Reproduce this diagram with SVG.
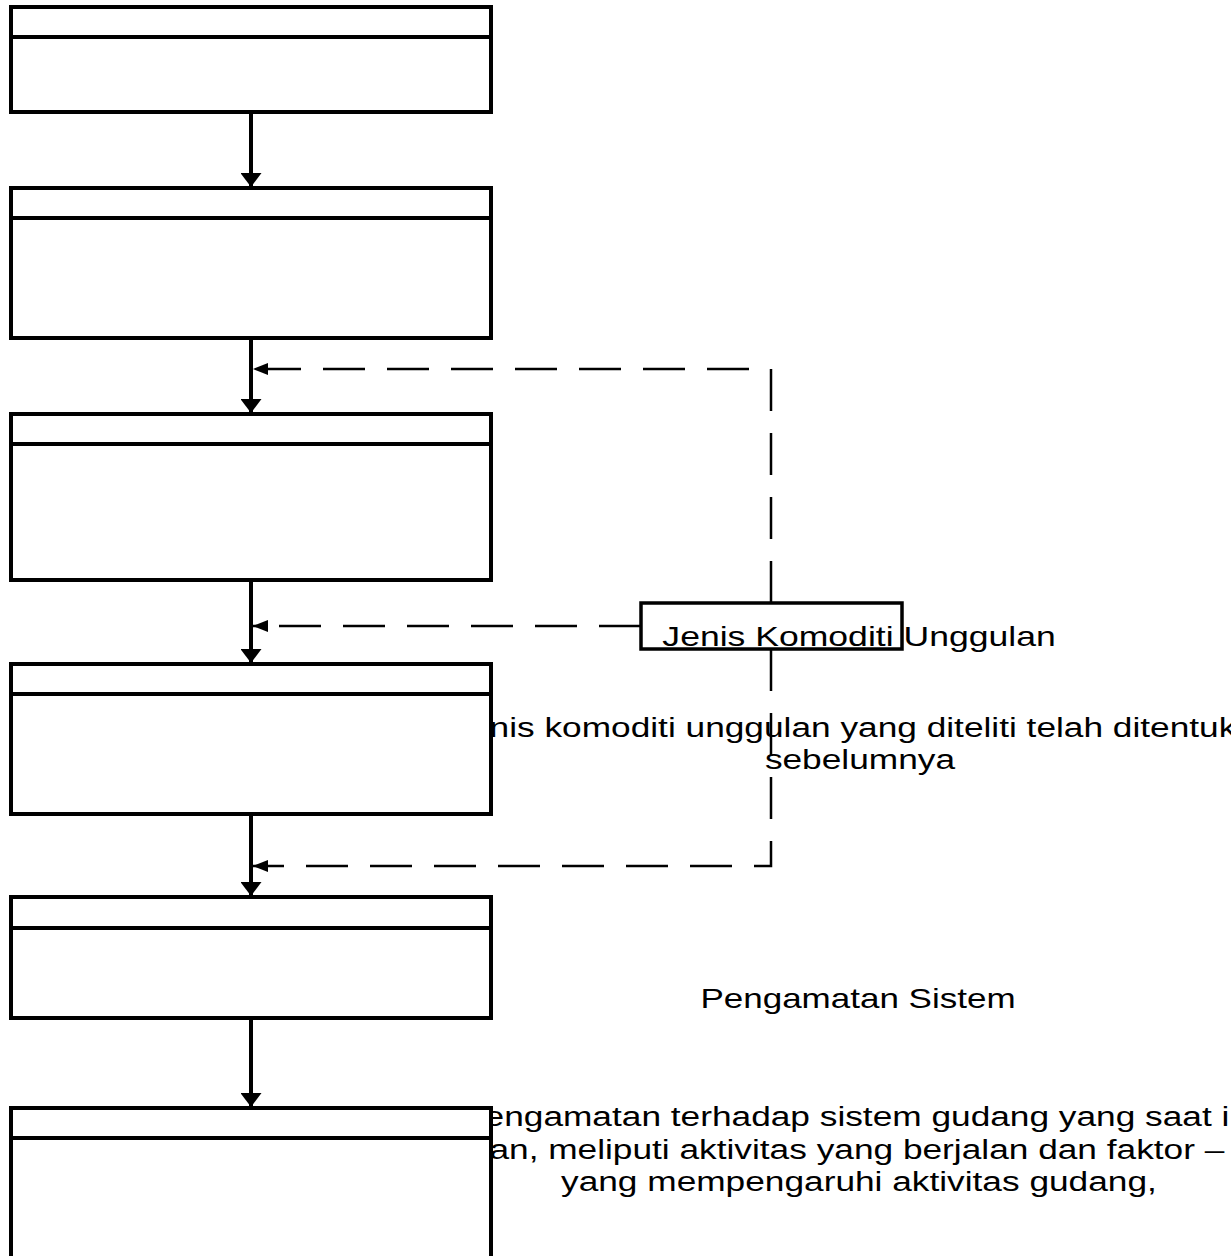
<svg xmlns="http://www.w3.org/2000/svg" width="1231" height="1256" viewBox="0 0 1231 1256">
<style>
.box{fill:#fff;stroke:#000;stroke-width:4}
.hdr{stroke:#000;stroke-width:4}
.flow{fill:none;stroke:#000;stroke-width:4}
.dash{fill:none;stroke:#000;stroke-width:2.5;stroke-dasharray:42 22}
.t{font-family:"Liberation Sans",Arial,sans-serif;font-size:28px;fill:#000;text-anchor:middle}
</style>
<defs>
<marker id="ah" markerUnits="userSpaceOnUse" viewBox="0 0 14 21" refX="14" refY="10.5" markerWidth="14" markerHeight="21" orient="auto">
<path d="M0,0 L14,10.5 L0,21 z" fill="#000"/>
</marker>
<marker id="ahs" markerUnits="userSpaceOnUse" viewBox="0 0 15 12" refX="15" refY="6" markerWidth="15" markerHeight="12" orient="auto">
<path d="M0,0 L15,6 L0,12 z" fill="#000"/>
</marker>
</defs>
<rect width="1231" height="1256" fill="#fff"/>
<g id="labels">
<g transform="scale(1.26,1)">
<text class="t" x="685.7" y="737">Jenis komoditi unggulan yang diteliti telah ditentukan</text>
<text class="t" x="682.5" y="769">sebelumnya</text>
<text class="t" x="681.7" y="1126">Pengamatan terhadap sistem gudang yang saat ini</text>
<text class="t" x="675.4" y="1159">dilakukan, meliputi aktivitas yang berjalan dan faktor – faktor</text>
<text class="t" x="681.7" y="1191">yang mempengaruhi aktivitas gudang,</text>
</g>
<text class="t" x="686.4" y="1008" transform="scale(1.25,1)">Pengamatan Sistem</text>
</g>
<g id="connectors">
<path class="flow" d="M251,112 L251,187" marker-end="url(#ah)"/>
<path class="flow" d="M251,338 L251,413" marker-end="url(#ah)"/>
<path class="flow" d="M251,580 L251,663" marker-end="url(#ah)"/>
<path class="flow" d="M251,814 L251,896" marker-end="url(#ah)"/>
<path class="flow" d="M251,1018 L251,1107" marker-end="url(#ah)"/>
<path class="dash" d="M771,603 L771,369 L253,369" marker-end="url(#ahs)"/>
<path class="dash" d="M641,626 L253,626" marker-end="url(#ahs)"/>
<path class="dash" d="M771,649 L771,866 L253,866" marker-end="url(#ahs)"/>
</g>
<g id="node1"><rect class="box" x="11" y="7" width="480" height="105"/><line class="hdr" x1="11" y1="37" x2="491" y2="37"/></g>
<g id="node2"><rect class="box" x="11" y="188" width="480" height="150"/><line class="hdr" x1="11" y1="218" x2="491" y2="218"/></g>
<g id="node3"><rect class="box" x="11" y="414" width="480" height="166"/><line class="hdr" x1="11" y1="444" x2="491" y2="444"/></g>
<g id="node4"><rect class="box" x="11" y="664" width="480" height="150"/><line class="hdr" x1="11" y1="694" x2="491" y2="694"/></g>
<g id="node5"><rect class="box" x="11" y="897" width="480" height="121"/><line class="hdr" x1="11" y1="928" x2="491" y2="928"/></g>
<g id="node6"><rect class="box" x="11" y="1108" width="480" height="200"/><line class="hdr" x1="11" y1="1138" x2="491" y2="1138"/></g>
<g id="node-jenis">
<rect class="box" x="641" y="603" width="261" height="46" style="stroke-width:3.5"/>
<text class="t" x="676.4" y="646" transform="scale(1.27,1)">Jenis Komoditi Unggulan</text>
</g>
</svg>
